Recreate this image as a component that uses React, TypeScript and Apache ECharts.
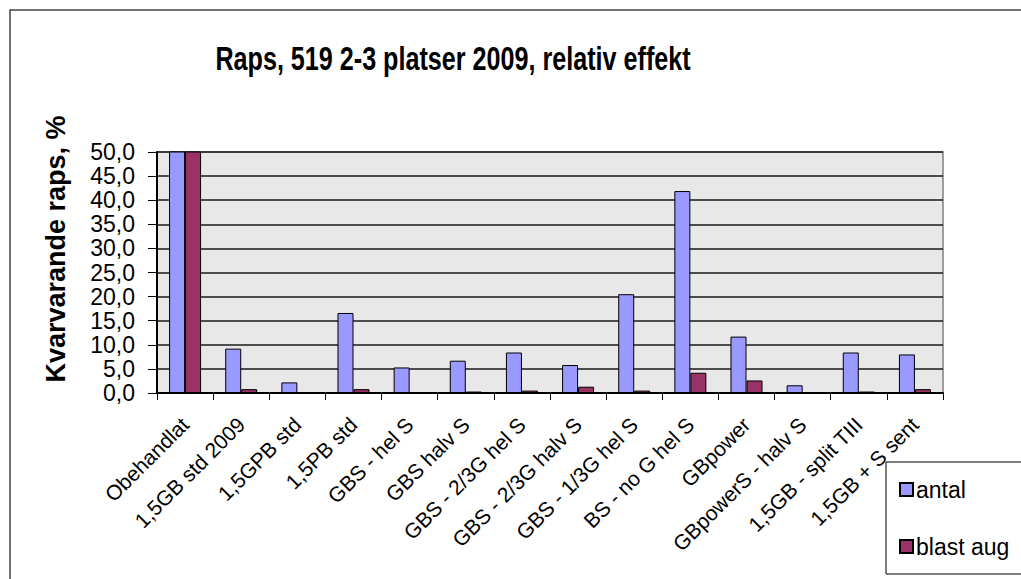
import React, { useEffect, useRef } from "react";
import * as echarts from "echarts";

const categories = [
  "Obehandlat",
  "1,5GB std 2009",
  "1,5GPB std",
  "1,5PB std",
  "GBS - hel S",
  "GBS halv S",
  "GBS - 2/3G hel S",
  "GBS - 2/3G halv S",
  "GBS - 1/3G hel S",
  "BS - no G hel S",
  "GBpower",
  "GBpowerS - halv S",
  "1,5GB - split TIII",
  "1,5GB + S sent",
];
const antal = [100, 9.2, 2.2, 16.6, 5.3, 6.7, 8.4, 5.8, 20.5, 41.9, 11.7, 1.6, 8.4, 8.0];
const blastAug = [100, 0.8, 0, 0.8, 0, 0.3, 0.5, 1.3, 0.5, 4.2, 2.6, 0, 0.3, 0.8];
const yTicks = { min: 0, max: 50, interval: 5 };
const titleText = "Raps, 519 2-3 platser 2009, relativ effekt";
const yTitle = "Kvarvarande raps, %";

export default function App() {
  const ref = useRef<HTMLDivElement>(null);
  useEffect(() => {
    document.body.style.margin = "0";
    const chart = echarts.init(ref.current!, null, { renderer: "svg" });
    const font = "'Liberation Sans', Arial, sans-serif";
    chart.setOption({
      animation: false,
      backgroundColor: "#ffffff",
      textStyle: { fontFamily: font },
      grid: {
        left: 157,
        top: 152,
        right: 78,
        bottom: 186,
        show: true,
        backgroundColor: "#e8e8e8",
        borderColor: "#808080",
        borderWidth: 1.5,
      },
      xAxis: {
        type: "category",
        data: categories,
        axisLine: { show: true, lineStyle: { color: "#000", width: 2 } },
        axisTick: { show: true, length: 7, lineStyle: { color: "#000", width: 1 } },
        axisLabel: {
          interval: 0,
          rotate: 45,
          fontSize: 21,
          color: "#000",
          margin: 28,
          fontFamily: font,
        },
        splitLine: { show: false },
      },
      yAxis: {
        type: "value",
        min: yTicks.min,
        max: yTicks.max,
        interval: yTicks.interval,
        axisLine: { show: true, lineStyle: { color: "#000", width: 2 } },
        axisTick: { show: true, length: 9, lineStyle: { color: "#000", width: 1 } },
        axisLabel: {
          fontSize: 23,
          color: "#000",
          margin: 22,
          fontFamily: font,
          formatter: (v: number) => v.toFixed(1).replace(".", ","),
        },
        splitLine: { show: true, lineStyle: { color: "#1a1a1a", width: 1.5 } },
      },
      legend: {
        orient: "vertical",
        left: 886,
        top: 462,
        padding: [16, 40, 16, 13],
        itemGap: 34,
        itemWidth: 13,
        itemHeight: 13,
        icon: "rect",
        borderColor: "#000",
        borderWidth: 1,
        backgroundColor: "#fff",
        textStyle: { fontSize: 23, color: "#000", fontFamily: font, padding: [0, 0, 0, -2] },
        data: ["antal", "blast aug"],
      },
      series: [
        {
          name: "antal",
          type: "bar",
          data: antal,
          barGap: "0%",
          barCategoryGap: "43%",
          clip: true,
          itemStyle: { color: "#9999ff", borderColor: "#000", borderWidth: 1 },
        },
        {
          name: "blast aug",
          type: "bar",
          data: blastAug,
          clip: true,
          itemStyle: { color: "#993366", borderColor: "#000", borderWidth: 1 },
        },
      ],
      graphic: [
        {
          type: "rect",
          silent: true,
          z: -10,
          shape: { x: 10, y: 10, width: 1200, height: 800 },
          style: { fill: "none", stroke: "#444", lineWidth: 1.5 },
        },
        {
          type: "text",
          x: 453,
          y: 58,
          scaleX: 0.74,
          style: {
            text: titleText,
            font: "bold 34px 'Liberation Sans', Arial, sans-serif",
            fill: "#000",
            align: "center",
            verticalAlign: "middle",
          },
        },
        {
          type: "text",
          x: 56,
          y: 249,
          rotation: Math.PI / 2,
          style: {
            text: yTitle,
            font: "bold 27px 'Liberation Sans', Arial, sans-serif",
            fill: "#000",
            align: "center",
            verticalAlign: "middle",
          },
        },
      ],
    });
    return () => chart.dispose();
  }, []);
  return <div ref={ref} style={{ width: 1021, height: 579 }} />;
}
